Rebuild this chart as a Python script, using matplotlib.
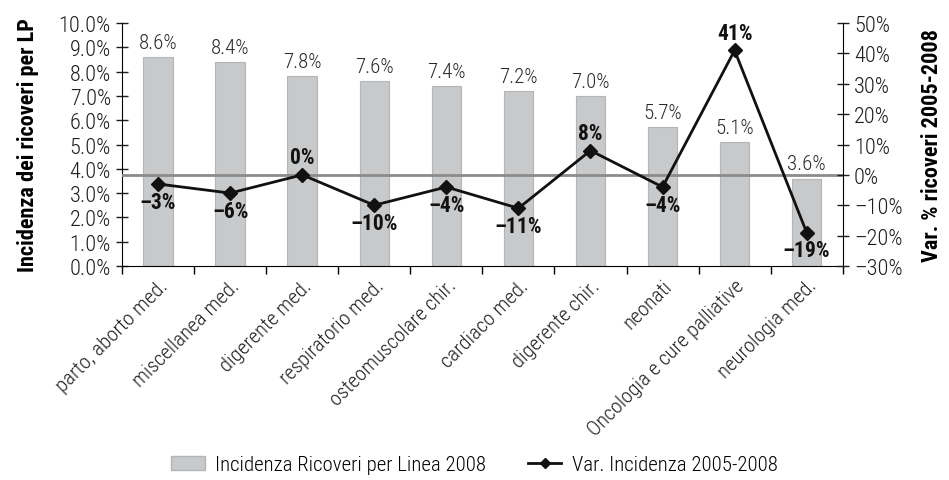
import matplotlib
matplotlib.use("Agg")
import matplotlib.pyplot as plt
from matplotlib.lines import Line2D
from matplotlib.patches import Patch
from matplotlib.ticker import FuncFormatter, MultipleLocator

categories = ["parto, aborto med.", "miscellanea med.", "digerente med.",
              "respiratorio med.", "osteomuscolare chir.", "cardiaco med.",
              "digerente chir.", "neonati", "Oncologia e cure palliative",
              "neurologia med."]
incidenza_2008 = [8.6, 8.4, 7.8, 7.6, 7.4, 7.2, 7.0, 5.7, 5.1, 3.6]
var_2005_2008 = [-3, -6, 0, -10, -4, -11, 8, -4, 41, -19]

plt.rcParams["font.family"] = ["Roboto Condensed", "Archivo Narrow", "DejaVu Sans"]
plt.rcParams["font.size"] = 14
plt.rcParams["font.weight"] = "light"

fig = plt.figure(figsize=(9.49, 4.81), dpi=100)
ax = fig.add_axes([0.1286, 0.445, 0.7594, 0.505])
ax2 = ax.twinx()

x = list(range(len(categories)))
bar_color = "#c8c9cb"
ax.bar(x, incidenza_2008, width=0.41, color=bar_color, edgecolor="#b4b5b7",
       linewidth=0.8, zorder=2)
for xi, v in zip(x, incidenza_2008):
    ax.text(xi, v + 0.22, f"{v:.1f}%", ha="center", va="bottom",
            fontsize=15, color="#2a2a2a")

ax.set_ylim(0, 10)
ax.set_xlim(-0.5, len(categories) - 0.5)
ax.yaxis.set_major_locator(MultipleLocator(1))
ax.yaxis.set_major_formatter(FuncFormatter(lambda v, p: f"{v:.1f}%"))
ax.set_xticks([i - 0.5 for i in range(len(categories) + 1)])
ax.set_xticklabels([])
ax.set_xticks(x, minor=True)
ax.set_xticklabels(categories, minor=True, rotation=45, ha="right",
                   rotation_mode="anchor", fontsize=15, color="#1e1e1e")
ax.tick_params(axis="x", which="minor", length=0, pad=7)
ax.tick_params(axis="x", which="major", length=6, width=1, direction="out")
ax.tick_params(axis="y", length=8, width=1, direction="inout",
               labelsize=16, colors="#1e1e1e", pad=4)
for s in ["top", "right"]:
    ax.spines[s].set_visible(False)
ax.set_ylabel("Incidenza dei ricoveri per LP", fontsize=16, fontweight="bold",
              labelpad=14)

# Variation series on the secondary axis
ax2.set_ylim(-30, 50)
ax2.axhline(0, color="#8c8c8c", linewidth=2, zorder=1)
ax2.plot(x, var_2005_2008, color="#111111", linewidth=2, marker="D",
         markersize=7, zorder=3)
for xi, v in zip(x, var_2005_2008):
    if v >= 0:
        ax2.text(xi, v + 2.2, f"{v:.0f}%", ha="center", va="bottom",
                 fontsize=15.5, fontweight="bold", color="#111111")
    else:
        ax2.text(xi, v - 2.2, f"\u2013{abs(v):.0f}%", ha="center", va="top",
                 fontsize=15.5, fontweight="bold", color="#111111")
ax2.yaxis.set_major_locator(MultipleLocator(10))
ax2.yaxis.set_major_formatter(
    FuncFormatter(lambda v, p: f"\u2013{abs(v):.0f}%" if v < 0 else f"{v:.0f}%"))
ax2.tick_params(axis="y", length=8, width=1, direction="inout",
                labelsize=16, colors="#1e1e1e", pad=4)
for s in ["top", "left", "bottom"]:
    ax2.spines[s].set_visible(False)
ax2.set_ylabel("Var. % ricoveri 2005-2008", fontsize=16, fontweight="bold",
               labelpad=13)
ax.set_zorder(ax2.get_zorder() - 1)
ax2.patch.set_visible(False)

handles = [Patch(facecolor=bar_color, edgecolor="#b4b5b7"),
           Line2D([0], [0], color="#111111", linewidth=2, marker="D", markersize=5)]
fig.legend(handles, ["Incidenza Ricoveri per Linea 2008", "Var. Incidenza 2005-2008"],
           loc="center", bbox_to_anchor=(0.5, 0.032), ncol=2, frameon=False,
           fontsize=15, handlelength=1.6, columnspacing=2.0, handletextpad=0.5)

fig.savefig("out.png", dpi=100)
